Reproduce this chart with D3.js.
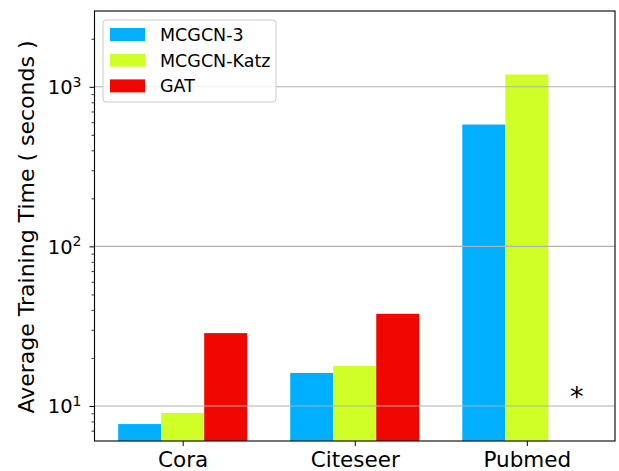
<!DOCTYPE html>
<html>
<head>
<meta charset="utf-8">
<script src="https://cdn.jsdelivr.net/npm/d3@7"></script>
<style>
  body { margin: 0; background: #fff; }
  text { font-family: "DejaVu Sans", sans-serif; fill: #000; }
</style>
</head>
<body>
<svg width="619" height="471"></svg>
<script>
// data
var datasets = ["Cora", "Citeseer", "Pubmed"];
var seriesNames = ["MCGCN-3", "MCGCN-Katz", "GAT"];
var mcgcn3 = [7.7, 16.1, 580];
var mcgcnKatz = [9.05, 17.8, 1195];
var gat = [28.6, 37.8, null]; // GAT has no Pubmed result, marked with *
var seriesColors = ["#00b0ff", "#d0ff28", "#f00800"];
var majorTicks = [10, 100, 1000];
var yDomain = [6.03, 2985];
var missingMark = { x: 2.29, y: 10, label: "*" };

function main() {
  var svg = d3.select("svg"),
    margin = { top: 11, right: 4, bottom: 30, left: 94.5 },
    width = +svg.attr("width") - margin.left - margin.right,
    height = +svg.attr("height") - margin.top - margin.bottom;

  var series = [mcgcn3, mcgcnKatz, gat];
  var barW = 0.25;

  // x positions as in matplotlib: bars at i-0.25, i, i+0.25, plus 5% margins
  var lo = -barW * 1.5, hi = datasets.length - 1 + barW * 1.5;
  var pad = (hi - lo) * 0.05;
  var x = d3.scaleLinear().domain([lo - pad, hi + pad]).range([0, width]);
  var y = d3.scaleLog().domain(yDomain).range([height, 0]);

  var g = svg.append("g")
    .attr("transform", "translate(" + margin.left + "," + margin.top + ")");

  // bars
  series.forEach(function (vals, s) {
    g.selectAll(".bar" + s)
      .data(vals.map(function (v, i) { return { i: i, v: v }; })
        .filter(function (d) { return d.v != null; }))
      .enter()
      .append("rect")
      .attr("class", "bar" + s)
      .attr("x", function (d) { return x(d.i + (s - 1) * barW - barW / 2); })
      .attr("width", function () { return x(barW) - x(0); })
      .attr("y", function (d) { return y(d.v); })
      .attr("height", function (d) { return height - y(d.v); })
      .attr("fill", seriesColors[s]);
  });

  // grid lines on top of the bars
  g.append("g")
    .selectAll("line")
    .data(majorTicks)
    .enter()
    .append("line")
    .attr("x1", 0)
    .attr("x2", width)
    .attr("y1", function (d) { return y(d); })
    .attr("y2", function (d) { return y(d); })
    .attr("stroke", "#b0b0b0")
    .attr("stroke-width", 1.1);

  // minor ticks on the log axis
  var minor = y.ticks().filter(function (d) {
    return majorTicks.indexOf(d) < 0 && d >= yDomain[0] && d <= yDomain[1];
  });
  g.append("g")
    .call(d3.axisLeft(y).tickValues(minor).tickSize(3).tickFormat(""))
    .call(function (a) { a.select(".domain").remove(); })
    .selectAll("line").attr("stroke-width", 0.8);

  // major ticks with 10^n labels
  var yAxis = g.append("g")
    .call(d3.axisLeft(y).tickValues(majorTicks).tickSize(5).tickFormat(""));
  yAxis.select(".domain").remove();
  yAxis.selectAll("line").attr("stroke-width", 1);
  yAxis.selectAll(".tick").append("text")
    .attr("x", -13)
    .attr("dy", "0.36em")
    .attr("text-anchor", "end")
    .attr("font-size", 19.5)
    .each(function (d) {
      var t = d3.select(this);
      t.append("tspan").text("10");
      t.append("tspan")
        .attr("dy", "-0.55em")
        .attr("font-size", 14)
        .text(Math.round(Math.log10(d)));
    });

  // x axis
  var xAxis = g.append("g")
    .attr("transform", "translate(0," + height + ")")
    .call(d3.axisBottom(x)
      .tickValues(d3.range(datasets.length))
      .tickSize(5)
      .tickFormat(function (d) { return datasets[d]; }));
  xAxis.select(".domain").remove();
  xAxis.selectAll("text")
    .attr("font-size", 21.5)
    .attr("y", 26)
    .attr("dy", 0);

  // frame
  g.append("rect")
    .attr("width", width)
    .attr("height", height)
    .attr("fill", "none")
    .attr("stroke", "#000")
    .attr("stroke-width", 1.1);

  // marker for the missing GAT bar
  g.append("text")
    .attr("x", x(missingMark.x))
    .attr("y", y(missingMark.y))
    .attr("text-anchor", "middle")
    .attr("font-size", 27)
    .text(missingMark.label);

  // y label
  svg.append("text")
    .attr("transform", "translate(33.5," + (margin.top + height / 2 + 1) + ") rotate(-90)")
    .attr("text-anchor", "middle")
    .attr("font-size", 22)
    .text("Average Training Time ( seconds )");

  // legend
  var legend = g.append("g").attr("transform", "translate(8.5,9)");
  legend.append("rect")
    .attr("width", 173)
    .attr("height", 82)
    .attr("rx", 3)
    .attr("fill", "#fff")
    .attr("fill-opacity", 0.8)
    .attr("stroke", "#cccccc")
    .attr("stroke-width", 1);
  var items = legend.selectAll(".item")
    .data(seriesNames)
    .enter()
    .append("g")
    .attr("class", "item")
    .attr("transform", function (d, i) { return "translate(7," + (14.5 + i * 25.7) + ")"; });
  items.append("rect")
    .attr("y", -6.5)
    .attr("width", 35)
    .attr("height", 13)
    .attr("fill", function (d, i) { return seriesColors[i]; });
  items.append("text")
    .attr("x", 50)
    .attr("dy", "0.36em")
    .attr("font-size", 17.5)
    .text(function (d) { return d; });
}
main();
</script>
</body>
</html>
